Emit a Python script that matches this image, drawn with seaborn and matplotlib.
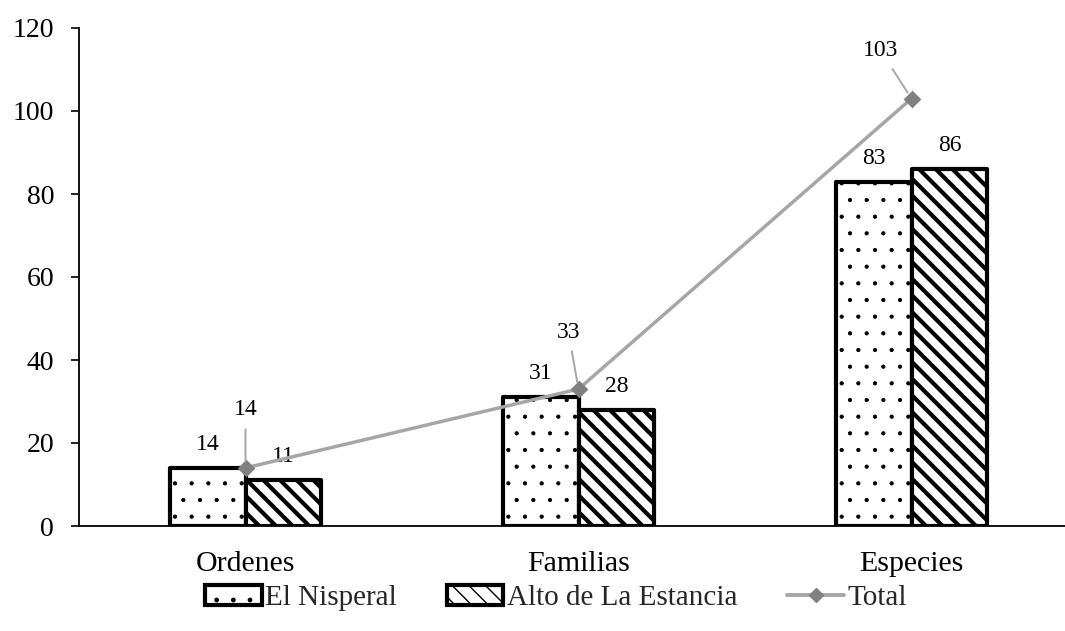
import matplotlib
matplotlib.use("Agg")
import matplotlib.pyplot as plt
from matplotlib.patches import Patch
from matplotlib.lines import Line2D
import pandas as pd
import seaborn as sns

categories = ["Ordenes", "Familias", "Especies"]
series_names = ["El Nisperal", "Alto de La Estancia"]
el_nisperal = [14, 31, 83]
alto_estancia = [11, 28, 86]
total = [14, 33, 103]
y_ticks = [0, 20, 40, 60, 80, 100, 120]

sns.set_theme(style="white")
plt.rcParams["font.family"] = ["Liberation Serif", "DejaVu Serif"]
plt.rcParams["hatch.color"] = "black"

HATCHES = [".", "\\\\"]
HATCH_LW = [0.6, 3.0]
LINE_GRAY = "#A6A6A6"
MARKER_GRAY = "#808080"


def style_hatch(patch, hatch, lw):
    patch.set_hatch(hatch)
    if hasattr(patch, "set_hatch_linewidth"):
        patch.set_hatch_linewidth(lw)
    else:
        patch._hatch_linewidth = lw


df = pd.DataFrame({
    "categoria": categories * 2,
    "serie": [series_names[0]] * 3 + [series_names[1]] * 3,
    "valor": el_nisperal + alto_estancia,
})

fig = plt.figure(figsize=(10.65, 6.31), dpi=100)
ax = fig.add_axes([79 / 1065, 1 - 526 / 631, (1078 - 79) / 1065, (526 - 28) / 631])

sns.barplot(data=df, x="categoria", y="valor", hue="serie", order=categories,
            hue_order=series_names, palette=["white", "white"], width=0.455,
            gap=0, edgecolor="black", linewidth=3.0, saturation=1,
            legend=False, ax=ax, zorder=2)

for cont, h, lw in zip(ax.containers, HATCHES, HATCH_LW):
    for bar in cont:
        style_hatch(bar, h, lw)
        bar.set_joinstyle("round")

# Value labels on bars
for cont, vals in zip(ax.containers, [el_nisperal, alto_estancia]):
    for bar, v in zip(cont, vals):
        ax.annotate(f"{v}", xy=(bar.get_x() + bar.get_width() / 2, v),
                    xytext=(0, 13), textcoords="offset pixels",
                    ha="center", va="bottom", fontsize=17, color="black")

# Total line
sns.pointplot(x=categories, y=total, order=categories, color=LINE_GRAY,
              markers="D", linestyles="-", linewidth=2.5, markersize=7.5,
              errorbar=None, ax=ax)
tot_line = ax.lines[-1]
tot_line.set_markerfacecolor(MARKER_GRAY)
tot_line.set_markeredgecolor(MARKER_GRAY)
tot_line.set_zorder(4)

total_offsets = [(0, 58), (-10, 57), (-31, 48)]
for i, (v, off) in enumerate(zip(total, total_offsets)):
    ax.annotate(f"{v}", xy=(i, v), xytext=off, textcoords="offset pixels",
                ha="center", va="center", fontsize=17, color="black",
                arrowprops=dict(arrowstyle="-", color=LINE_GRAY, lw=1.4,
                                shrinkA=4, shrinkB=5), zorder=5)

ax.set_ylim(0, 120)
ax.set_yticks(y_ticks)
ax.set_xlim(-0.5, 2.5)
ax.set_xlabel("")
ax.set_ylabel("")
for s in ["top", "right"]:
    ax.spines[s].set_visible(False)
for s in ["left", "bottom"]:
    ax.spines[s].set_color("black")
    ax.spines[s].set_linewidth(1.3)
ax.tick_params(axis="y", which="major", left=True, length=6, width=1.2,
               color="black", pad=12, labelsize=20, labelcolor="black")
ax.tick_params(axis="x", length=0, pad=18, labelsize=21.5, labelcolor="black")
ax.grid(False)

legend_patches = []
for h, lw in zip(HATCHES, HATCH_LW):
    p = Patch(facecolor="white", edgecolor="black", linewidth=3.0)
    style_hatch(p, h, lw)
    legend_patches.append(p)
handles = legend_patches + [
    Line2D([0], [0], color=LINE_GRAY, lw=2.8, marker="D", markersize=7.5,
           markerfacecolor=MARKER_GRAY, markeredgecolor=MARKER_GRAY),
]
fig.legend(handles, series_names + ["Total"], loc="center",
           bbox_to_anchor=(0.522, 0.052), ncol=3, frameon=False,
           fontsize=21, handlelength=1.95, handleheight=0.65,
           handletextpad=0.12, columnspacing=1.7)

fig.savefig("out.png", dpi=100)
